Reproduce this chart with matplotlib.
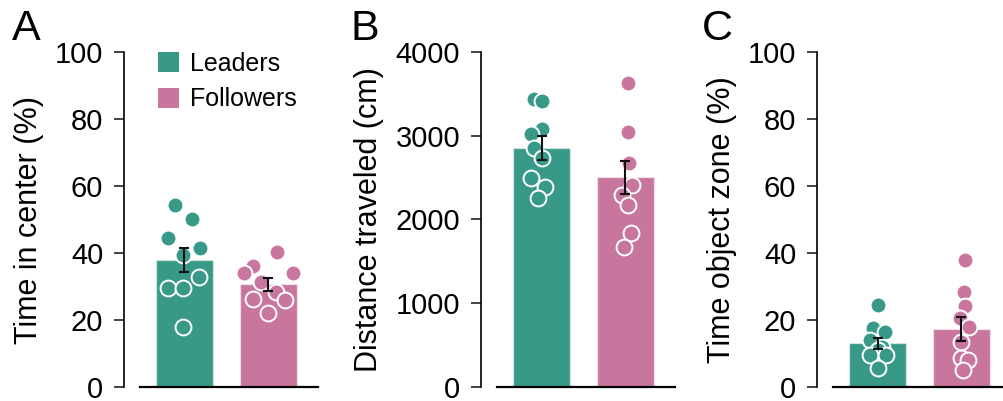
# Leaders vs followers: time in center, distance traveled, time in object zone
import matplotlib.pyplot as plt
from matplotlib.patches import Patch

plt.rcParams['font.family'] = ['Liberation Sans', 'DejaVu Sans']

# =============================================================================
# DATA
# =============================================================================

groups = ["Leaders", "Followers"]

# A - time in center (%)
center_mean = [37.8, 30.6]
center_sem = [3.6, 2.0]
center_leaders = [54.3, 50.2, 44.4, 41.4, 39.4, 32.7, 29.7, 29.7, 18.0]
center_followers = [40.2, 36.1, 33.9, 33.9, 31.2, 28.4, 26.4, 26.0, 22.2]

# B - distance traveled (cm)
dist_mean = [2850, 2504]
dist_sem = [143, 199]
dist_leaders = [3435, 3411, 3077, 3021, 2850, 2731, 2492, 2392, 2260]
dist_followers = [3626, 3049, 2670, 2412, 2293, 2173, 1835, 1675]

# C - time in object zone (%)
obj_mean = [13.0, 17.4]
obj_sem = [1.75, 3.6]
obj_leaders = [24.5, 17.5, 16.5, 14.0, 12.0, 11.0, 9.6, 9.6, 5.6]
obj_followers = [37.9, 28.4, 24.2, 20.5, 17.8, 13.5, 8.6, 8.1, 5.1]

# horizontal spread of the dots (in bar units), as seen in the picture
jit_center = ([-0.11, 0.09, -0.20, 0.18, -0.02, 0.17, -0.20, -0.02, -0.02],
              [0.10, -0.19, -0.29, 0.29, -0.09, 0.09, -0.19, 0.20, 0.0])
jit_dist = ([-0.09, 0.0, 0.0, -0.12, -0.09, 0.0, -0.13, 0.04, -0.04],
            [0.03, 0.03, 0.04, 0.08, -0.04, 0.03, 0.06, -0.02])
jit_obj = ([0.0, -0.05, 0.09, -0.09, 0.05, 0.0, -0.09, 0.10, 0.0],
           [0.04, 0.03, 0.04, -0.02, 0.09, 0.0, 0.0, 0.075, 0.015])

# =============================================================================
# STYLE
# =============================================================================

COLORS = ["#389989", "#C8769E"]
TICK_FS = 21
LABEL_FS = 22

W, H = 1004, 401
fig = plt.figure(figsize=(W / 100, H / 100), dpi=100)


def panel(left_px, mean, sem, pts, jit, ymax, yticks, ylabel):
    ax = fig.add_axes([left_px / W, (H - 387) / H, 178 / W, 335 / H])
    x = range(len(mean))
    ax.bar(x, mean, width=0.68, color=COLORS,
           edgecolor=(1, 1, 1, 0.5), linewidth=1, zorder=1)
    for i, (vals, off) in enumerate(zip(pts, jit)):
        ax.scatter([i + o for o in off], vals, s=130, color=COLORS[i],
                   edgecolor="white", linewidth=1.4, zorder=2)
    ax.errorbar(x, mean, yerr=sem, fmt="none", ecolor="#111111",
                elinewidth=1.5, capsize=3.8, capthick=1.5, zorder=3)

    ax.set_xlim(-0.53, 1.59)
    ax.set_ylim(0, ymax)
    ax.set_yticks(yticks)
    ax.set_xticks([])
    ax.set_ylabel(ylabel, fontsize=LABEL_FS, labelpad=8)
    ax.tick_params(axis="y", labelsize=TICK_FS, length=7, width=1.2,
                   pad=8, color="#222222")
    for s in ("top", "right"):
        ax.spines[s].set_visible(False)
    ax.spines["left"].set_position(("outward", 11.5))
    ax.spines["left"].set_linewidth(1.2)
    ax.spines["bottom"].set_linewidth(1.6)
    ax.patch.set_alpha(0)
    return ax


axA = panel(140, center_mean, center_sem, (center_leaders, center_followers),
            jit_center, 100, [0, 20, 40, 60, 80, 100], "Time in center (%)")
axB = panel(497, dist_mean, dist_sem, (dist_leaders, dist_followers),
            jit_dist, 4000, [0, 1000, 2000, 3000, 4000], "Distance traveled (cm)")
axC = panel(833, obj_mean, obj_sem, (obj_leaders, obj_followers),
            jit_obj, 100, [0, 20, 40, 60, 80, 100], "Time object zone (%)")

handles = [Patch(facecolor=c, edgecolor="none") for c in COLORS]
axA.legend(handles, groups, loc="upper left", bbox_to_anchor=(0.101, 1.0),
           frameon=False, fontsize=18, handlelength=0.85, handleheight=0.85,
           handletextpad=0.45, labelspacing=0.45, borderpad=0, borderaxespad=0)

for lab, xpx in (("A", 12), ("B", 350), ("C", 702)):
    fig.text(xpx / W, 1 - 9 / H, lab, fontsize=31, ha="left", va="top")

fig.savefig("out.png", dpi=100)
